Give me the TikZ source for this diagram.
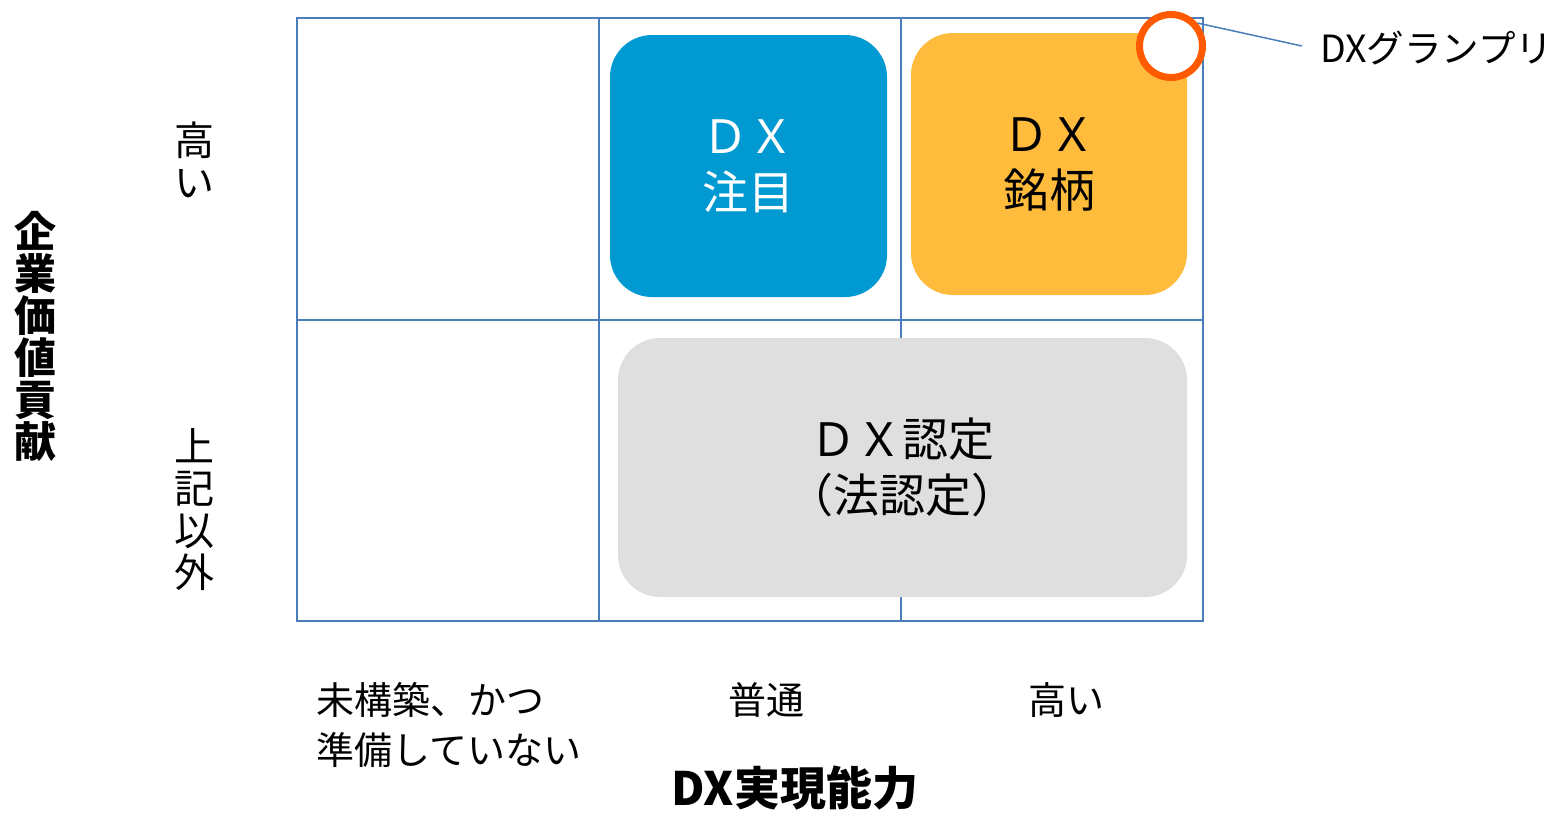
\documentclass[tikz,border=0pt]{standalone}
\usepackage{fontspec}
\setmainfont{Noto Sans CJK JP}
\definecolor{gridblue}{HTML}{4A7EBB}
\definecolor{boxblue}{HTML}{0099D1}
\definecolor{boxorange}{HTML}{FFBC3C}
\definecolor{boxgray}{HTML}{DFDFDF}
\definecolor{ringorange}{HTML}{FF5A00}
\tikzset{
  gridline/.style={draw=gridblue, line width=1.5pt},
  catbox/.style={rounded corners=42pt, inner sep=0pt, align=center, font=\fontsize{46}{56}\selectfont},
  axislbl/.style={inner sep=0pt, align=center, font=\fontsize{40}{42}\selectfont},
  axistitle/.style={inner sep=0pt, align=center, font=\bfseries\fontsize{42}{42}\selectfont},
  ticklbl/.style={inner sep=0pt, font=\fontsize{38}{50}\selectfont},
}
\begin{document}
\begin{tikzpicture}[x=1pt,y=-1pt]
\useasboundingbox (0,0) rectangle (1561,815);
% grid
\draw[gridline] (297,18) rectangle (1203,621);
\draw[gridline] (599,18) -- (599,621);
\draw[gridline] (901,18) -- (901,621);
\draw[gridline] (297,320) -- (1203,320);
% boxes
\node[catbox, fill=boxblue, text=white, minimum width=277pt, minimum height=262pt] (chu) at (748.5,166) {ＤＸ\\注目};
\node[catbox, fill=boxorange, text=black, minimum width=276pt, minimum height=262pt] (mei) at (1049,164) {ＤＸ\\銘柄};
\node[catbox, fill=boxgray, text=black, minimum width=569pt, minimum height=259pt] (nin) at (902.5,467.5) {ＤＸ認定\\（法認定）};
% grand prix marker
\node[circle, draw=ringorange, line width=7pt, fill=white, minimum size=63pt, inner sep=0pt] (gpc) at (1171,46) {};
\node[inner sep=0pt, anchor=west, font=\fontsize{37.5}{40}\selectfont] (gp) at (1320,48) {DXグランプリ};
\coordinate (gpend) at (1302,46);
\draw[draw=gridblue, line width=1.5pt] (gpc.41) -- (gpend);
% vertical axis labels
\node[axistitle] (yt) at (35,336) {企\\業\\価\\値\\貢\\献};
\node[axislbl] (yhi) at (194,160) {高\\い};
\node[axislbl] (ylo) at (194,510) {上\\記\\以\\外};
% horizontal axis labels
\node[ticklbl, anchor=west, align=left] (x1) at (316,725) {未構築、かつ\\準備していない};
\node[ticklbl] (x2) at (766,700) {普通};
\node[ticklbl] (x3) at (1066,700) {高い};
\node[inner sep=0pt, font=\bfseries\fontsize{46}{46}\selectfont] (xt) at (795,788) {DX実現能力};
\end{tikzpicture}
\end{document}
